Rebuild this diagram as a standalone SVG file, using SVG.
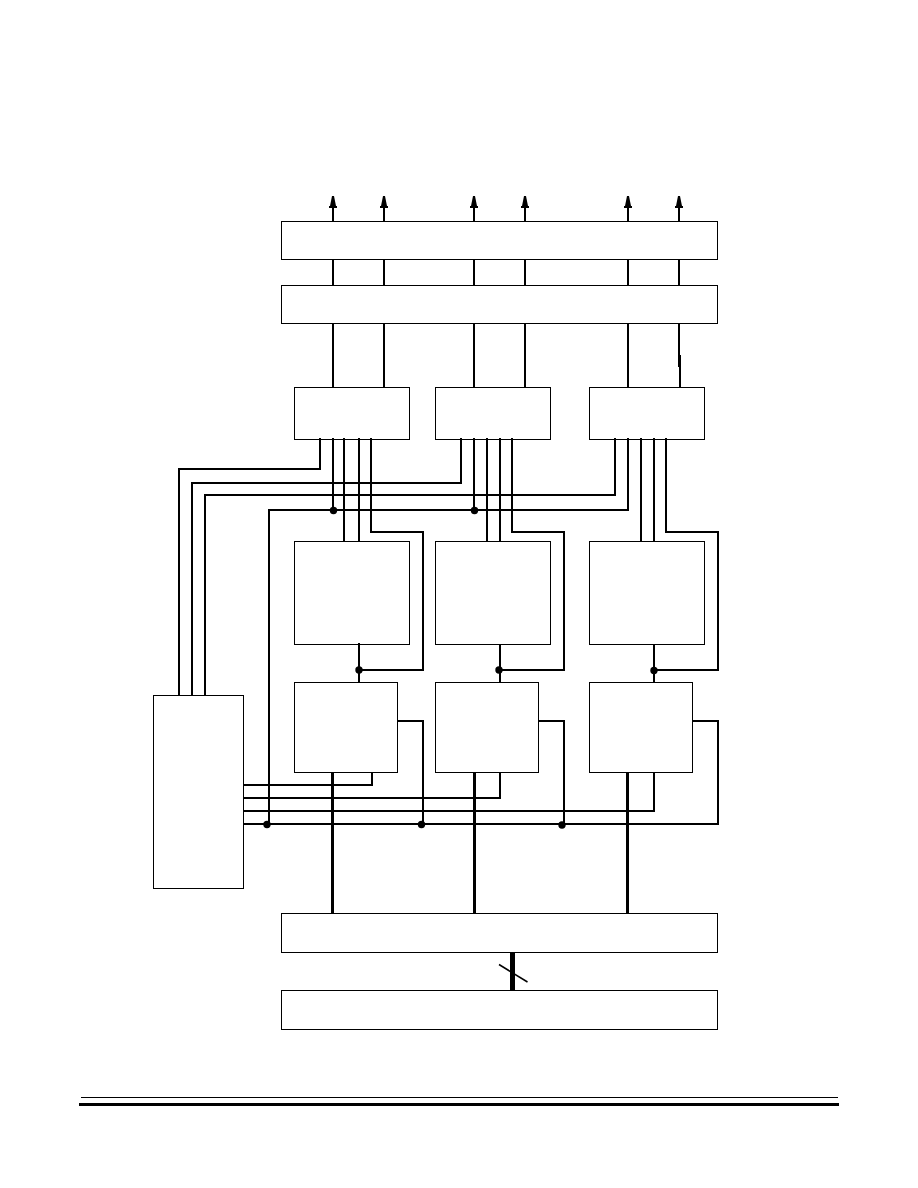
<svg xmlns="http://www.w3.org/2000/svg" width="918" height="1188" viewBox="0 0 918 1188">
<style>
.box{fill:#fff;stroke:#000;stroke-width:1}
.w{fill:none;stroke:#000;stroke-width:2;shape-rendering:crispEdges}
.bus{fill:none;stroke:#000;stroke-width:3;shape-rendering:crispEdges}
.dot{fill:#000}
</style>
<defs>
<marker id="arrow" markerUnits="userSpaceOnUse" markerWidth="10" markerHeight="14" refX="5" refY="13" orient="0">
<path d="M4 1H6L8 11H9V13H1V11H2Z" fill="#000"/>
</marker>
</defs>
<rect width="918" height="1188" fill="#fff"/>
<g id="top-bar-1"><rect class="box" x="281.500" y="221.500" width="436" height="38"/></g>
<g id="top-bar-2"><rect class="box" x="281.500" y="285.500" width="436" height="38"/></g>
<g id="upper-1"><rect class="box" x="294.500" y="387.500" width="115" height="52"/></g>
<g id="upper-2"><rect class="box" x="435.500" y="387.500" width="115" height="52"/></g>
<g id="upper-3"><rect class="box" x="589.500" y="387.500" width="115" height="52"/></g>
<g id="middle-1"><rect class="box" x="294.500" y="541.500" width="115" height="103"/></g>
<g id="middle-2"><rect class="box" x="435.500" y="541.500" width="115" height="103"/></g>
<g id="middle-3"><rect class="box" x="589.500" y="541.500" width="115" height="103"/></g>
<g id="lower-1"><rect class="box" x="294.500" y="682.500" width="103" height="90"/></g>
<g id="lower-2"><rect class="box" x="435.500" y="682.500" width="103" height="90"/></g>
<g id="lower-3"><rect class="box" x="589.500" y="682.500" width="103" height="90"/></g>
<g id="controller"><rect class="box" x="153.500" y="695.500" width="90" height="193"/></g>
<g id="bottom-bar-1"><rect class="box" x="281.500" y="913.500" width="436" height="39"/></g>
<g id="bottom-bar-2"><rect class="box" x="281.500" y="990.500" width="436" height="39"/></g>
<g id="connectors">
<path class="w" marker-end="url(#arrow)" d="M333 221V208"/>
<path class="w" marker-end="url(#arrow)" d="M384 221V208"/>
<path class="w" marker-end="url(#arrow)" d="M474 221V208"/>
<path class="w" marker-end="url(#arrow)" d="M525 221V208"/>
<path class="w" marker-end="url(#arrow)" d="M628 221V208"/>
<path class="w" marker-end="url(#arrow)" d="M679 221V208"/>
<path class="w" d="M333 259V285M384 259V285M474 259V285M525 259V285M628 259V285M679 259V285"/>
<path class="w" d="M333 323V387M384 323V387M474 323V387M525 323V387M628 323V387M679 323V367M680 355V387"/>
<path class="w" d="M320 438V469H179V695"/>
<path class="w" d="M461 438V483H192V695"/>
<path class="w" d="M615 438V495H205V695"/>
<path class="w" d="M628 438V510H269V824"/>
<path class="w" d="M333 438V510M474 438V510"/>
<path class="w" d="M344 438V541M359 438V541M487 438V541M500 438V541M641 438V541M654 438V541"/>
<path class="w" d="M371 438V532H423V670H359"/>
<path class="w" d="M512 438V532H564V670H500"/>
<path class="w" d="M666 438V532H718V670H654"/>
<path class="w" d="M359 643V682M500 644V682M654 644V682"/>
<path class="w" d="M243 785H372V772"/>
<path class="w" d="M243 798H500V772"/>
<path class="w" d="M243 811H654V772"/>
<path class="w" d="M243 824H718V721H693"/>
<path class="w" d="M398 721H423V824"/>
<path class="w" d="M539 721H564V824"/>
<path class="bus" d="M332.500 772V913M474.500 772V913M627.500 772V913"/>
<path d="M512.500 952V990" fill="none" stroke="#000" stroke-width="5" shape-rendering="crispEdges"/>
<path d="M499 964.500L527.500 982" fill="none" stroke="#000" stroke-width="1.500"/>
<circle class="dot" cx="333.500" cy="510.500" r="3.700"/>
<circle class="dot" cx="474.500" cy="510.500" r="3.700"/>
<circle class="dot" cx="359" cy="670" r="3.700"/>
<circle class="dot" cx="499" cy="670" r="3.700"/>
<circle class="dot" cx="654" cy="670.500" r="3.700"/>
<circle class="dot" cx="267" cy="824.500" r="3.700"/>
<circle class="dot" cx="421.500" cy="824.500" r="3.700"/>
<circle class="dot" cx="562" cy="825" r="3.700"/>
</g>
<g id="footer-rule">
<path d="M81 1097.500H838" fill="none" stroke="#000" stroke-width="1"/>
<path d="M79 1104.500H839" fill="none" stroke="#000" stroke-width="3"/>
</g>
</svg>
